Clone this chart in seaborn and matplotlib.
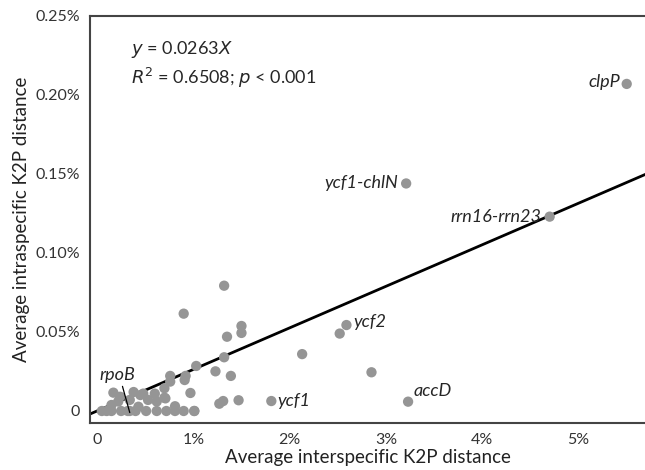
import numpy as np
import pandas as pd
import matplotlib
matplotlib.use("Agg")
import matplotlib.pyplot as plt
import seaborn as sns

# inter- vs intraspecific K2P distance per marker (values in %)
inter = [
    5.50, 3.21, 4.70, 2.59, 2.52, 2.13, 2.85, 3.23, 1.81,
    1.32, 0.90, 1.50, 1.50, 1.35, 1.32, 1.03, 1.23, 1.39, 0.92, 0.91,
    0.76, 0.76, 0.70, 0.70, 0.97, 1.47, 1.31, 1.27, 0.81, 1.01, 0.90,
    0.05, 0.15, 0.17, 0.22, 0.38, 0.34, 0.43, 0.48, 0.60, 0.53, 0.62,
    0.71, 0.24, 0.45,
    0.10, 0.15, 0.25, 0.32, 0.40, 0.51, 0.62, 0.72, 0.81, 1.01, 0.34,
]
intra = [
    0.207, 0.144, 0.123, 0.0544, 0.049, 0.036, 0.0245, 0.0059, 0.0063,
    0.0793, 0.0616, 0.0538, 0.0494, 0.047, 0.034, 0.0285, 0.0251, 0.0222, 0.0222, 0.0196,
    0.0222, 0.0186, 0.0144, 0.0084, 0.0114, 0.0068, 0.0063, 0.0046, 0.003, 0.0, 0.0,
    0.0, 0.0038, 0.0116, 0.006, 0.012, 0.007, 0.0027, 0.011, 0.011, 0.007, 0.006,
    0.008, 0.009, 0.0101,
    0.0, 0.0, 0.0, 0.0, 0.0, 0.0, 0.0, 0.0, 0.0, 0.0, 0.0,
]
df = pd.DataFrame({"inter": inter, "intra": intra})

slope = 0.0263
fit_x = [-0.08, 5.70]
fit_y = [slope * v for v in fit_x]

# labelled markers: name, x, y, offset (pt), ha
labels = [
    ("clpP", 5.50, 0.207, (-5, 1.5), "right"),
    ("ycf1-chlN", 3.21, 0.144, (-6, 0), "right"),
    ("rrn16-rrn23", 4.70, 0.123, (-6, 0), "right"),
    ("ycf2", 2.59, 0.0544, (5, 2), "left"),
    ("ycf1", 1.81, 0.0063, (4, 0), "left"),
    ("accD", 3.23, 0.0059, (4, 8), "left"),
]

xticks = [0, 1, 2, 3, 4, 5]
xticklabels = ["0", "1%", "2%", "3%", "4%", "5%"]
yticks = [0, 0.05, 0.10, 0.15, 0.20, 0.25]
yticklabels = ["0", "0.05%", "0.10%", "0.15%", "0.20%", "0.25%"]

sns.set_style("white")
plt.rcParams["font.family"] = ["Lato", "DejaVu Sans"]

fig = plt.figure(figsize=(6.45, 4.7), dpi=100)
ax = fig.add_axes([0.1395, 0.1, 0.8605, 0.866])

sns.scatterplot(data=df, x="inter", y="intra", ax=ax, s=55, color="#959595",
                edgecolor="none", zorder=3)
ax.plot(fit_x, fit_y, color="black", lw=2, zorder=2)

ax.set_xlim(-0.073, 5.69)
ax.set_ylim(-0.0076, 0.25)
ax.set_xticks(xticks)
ax.set_xticklabels(xticklabels)
ax.set_yticks(yticks)
ax.set_yticklabels(yticklabels)
ax.tick_params(axis="both", direction="out", length=5, width=1.2, color="#444444",
               labelsize=11.5, labelcolor="#333333", pad=2)
ax.tick_params(axis="x", pad=2)
ax.set_xlabel("Average interspecific K2P distance", fontsize=13.5, color="#222222", labelpad=2)
ax.set_ylabel("Average intraspecific K2P distance", fontsize=13.5, color="#222222", labelpad=4)

for side in ["left", "bottom", "top"]:
    ax.spines[side].set_color("#444444")
    ax.spines[side].set_linewidth(1.5)
ax.spines["right"].set_visible(False)

ax.text(0.35, 0.229, r"$y$ = 0.0263$X$", fontsize=13, va="center")
ax.text(0.35, 0.211, r"$R^2$ = 0.6508; $p$ < 0.001", fontsize=13, va="center")

for name, lx, ly, off, ha in labels:
    ax.annotate(name, (lx, ly), xytext=off, textcoords="offset points",
                ha=ha, va="center", fontsize=13, style="italic")

# rpoB sits inside the cluster, so it gets a leader line
ax.annotate("rpoB", (0.34, -0.001), xytext=(-9, 27), textcoords="offset points",
            ha="center", va="center", fontsize=13, style="italic", zorder=5,
            arrowprops=dict(arrowstyle="-", color="black", lw=0.9,
                            shrinkA=0, shrinkB=0,
                            relpos=(0.62, 0.0)))

fig.savefig("out.png", dpi=100)
